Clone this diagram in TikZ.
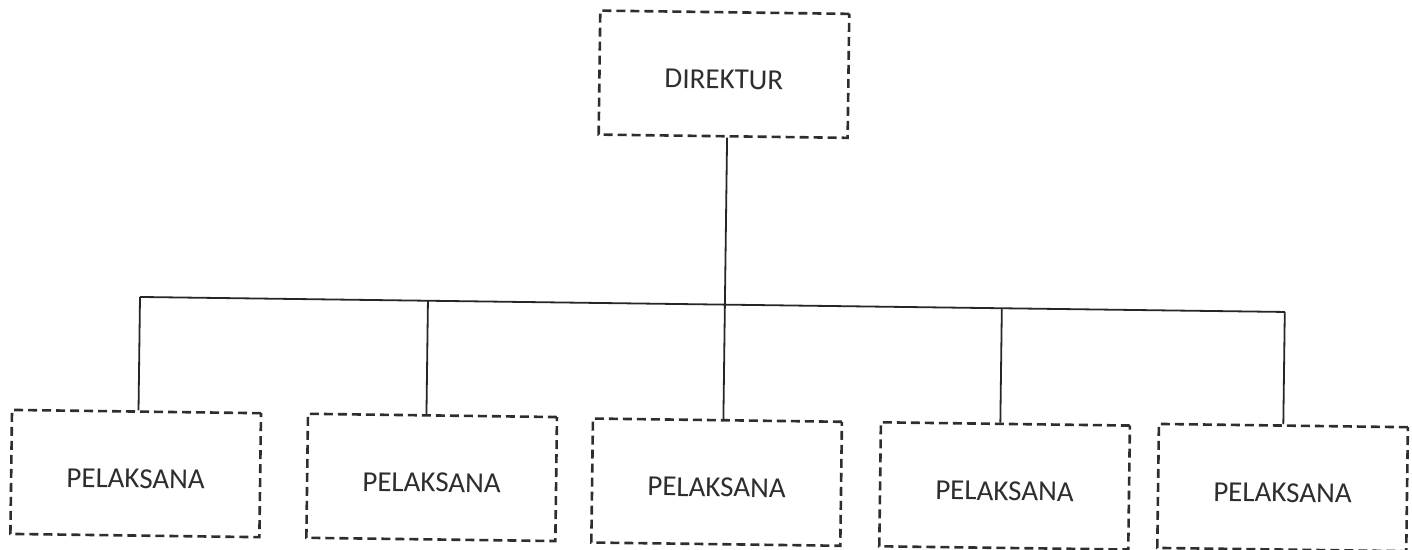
\documentclass[tikz,border=0pt]{standalone}
\usepackage{fontspec}
\setmainfont{Carlito}
\definecolor{ink}{HTML}{2E2E2E}
\definecolor{wire}{HTML}{262626}
\begin{document}
\begin{tikzpicture}[x=1pt,y=-1pt,
  box/.style={draw=ink, line width=2.6pt, dash pattern=on 9pt off 5pt,
    minimum width=249pt, minimum height=124pt, inner sep=0pt,
    text=ink, font=\fontsize{29}{32}\selectfont, text height=29pt, text depth=0pt},
  wirestyle/.style={draw=wire, line width=1.8pt}]
\useasboundingbox (0,0) rectangle (1412,549);
\begin{scope}[rotate around={-0.75:(706,300)}, transform shape]
  \node[box] (dir) at (721,74) {DIREKTUR};
  \node[box] (p1) at (138,481) {PELAKSANA};
  \node[box] (p2) at (434,481) {PELAKSANA};
  \node[box] (p3) at (719,482) {PELAKSANA};
  \node[box] (p4) at (1007,482) {PELAKSANA};
  \node[box] (p5) at (1285,480) {PELAKSANA};
  \coordinate (bl) at (140,304.4);
  \coordinate (br) at (1285,304.4);
  \draw[wirestyle] ([xshift=4pt]dir.south) -- ([xshift=4pt]dir.south |- bl);
  \draw[wirestyle] (bl) -- (br);
  \draw[wirestyle] (bl) -- ([xshift=2pt]p1.north);
  \draw[wirestyle] ([xshift=-6pt]p2.north |- bl) -- ([xshift=-6pt]p2.north);
  \draw[wirestyle] ([xshift=6pt]p3.north |- bl) -- ([xshift=6pt]p3.north);
  \draw[wirestyle] ([xshift=-5pt]p4.north |- bl) -- ([xshift=-5pt]p4.north);
  \draw[wirestyle] (br) -- (p5.north);
\end{scope}
\end{tikzpicture}
\end{document}
